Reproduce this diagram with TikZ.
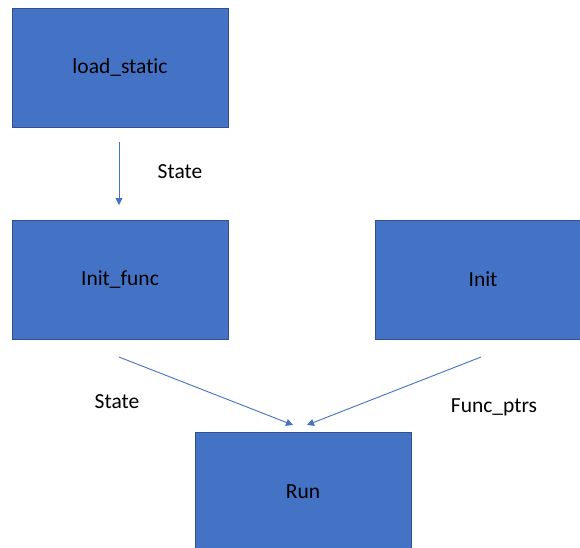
\documentclass[tikz,border=0pt]{standalone}
\usepackage{fontspec}
\setmainfont[RawFeature=-liga]{Carlito}
\usetikzlibrary{arrows.meta}
\definecolor{boxfill}{HTML}{4472C4}
\definecolor{boxline}{HTML}{2F528F}
\begin{document}
\begin{tikzpicture}[x=1pt,y=-1pt,
  blockbox/.style={draw=boxline, line width=0.8pt, fill=boxfill, minimum width=216pt, minimum height=119pt, inner sep=0pt, font=\fontsize{21.5}{26}\selectfont, text=black},
  conn/.style={draw=boxfill, line width=0.9pt, -{Triangle[width=7pt,length=7pt]}},
  lbl/.style={font=\fontsize{21.5}{26}\selectfont, text=black, inner sep=0pt}]
\path[use as bounding box, clip] (0,0) rectangle (580,547);
\fill[white] (0,0) rectangle (580,547);
\node[blockbox] (ls) at (120,67.5) {load\_static};
\node[blockbox] (if) at (120,279.5) {Init\_func};
\node[blockbox] (in) at (483,279.5) {Init};
\node[blockbox] (run) at (303,491.5) {Run};
\coordinate (a1s) at (119,142);
\coordinate (a1e) at (119,205);
\coordinate (a2s) at (119,357);
\coordinate (a2e) at (293,425);
\coordinate (a3s) at (481,357);
\coordinate (a3e) at (307,425);
\draw[conn] (a1s) -- (a1e);
\draw[conn] (a2s) -- (a2e);
\draw[conn] (a3s) -- (a3e);
\node[lbl] (l1) at (180,172) {State};
\node[lbl] (l2) at (117,402) {State};
\node[lbl] (l3) at (494,407) {Func\_ptrs};
\end{tikzpicture}
\end{document}
